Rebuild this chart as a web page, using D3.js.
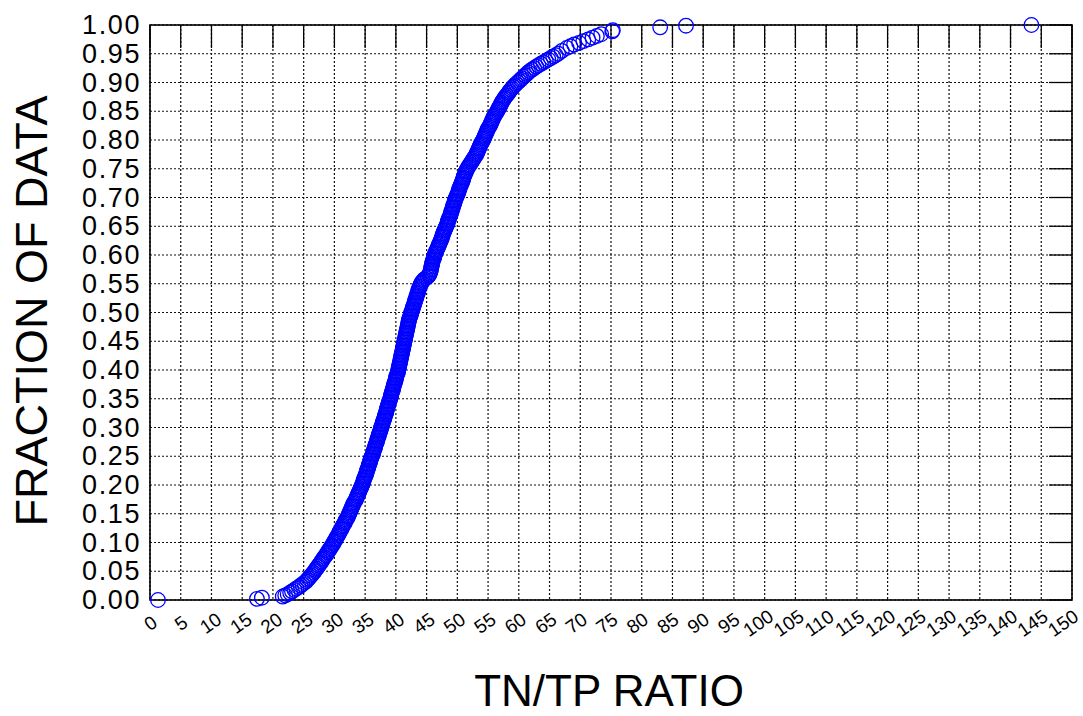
<!DOCTYPE html>
<html>
<head>
<meta charset="utf-8">
<script src="https://cdn.jsdelivr.net/npm/d3@7"></script>
<style>
  body { margin: 0; background: #fff; }
  svg { display: block; font-family: "Liberation Sans", Arial, sans-serif; }
</style>
</head>
<body>
<svg id="chart" width="1083" height="716"></svg>
<script>
// ---- DATA ----
const fraction = [
  0.000, 0.002, 0.004, 0.006, 0.008,
  0.0100, 0.0125, 0.0150, 0.0175, 0.0200, 0.0225, 0.0250, 0.0275, 0.0300, 0.0325,
  0.0350, 0.0375, 0.0400, 0.0425, 0.0450, 0.0475, 0.0500, 0.0525, 0.0550, 0.0575,
  0.0600, 0.0625, 0.0650, 0.0675, 0.0700, 0.0725, 0.0750, 0.0775, 0.0800, 0.0825,
  0.0850, 0.0875, 0.0900, 0.0925, 0.0950, 0.0975, 0.1000, 0.1025, 0.1050, 0.1075,
  0.1100, 0.1125, 0.1150, 0.1175, 0.1200, 0.1225, 0.1250, 0.1275, 0.1300, 0.1325,
  0.1350, 0.1375, 0.1400, 0.1425, 0.1450, 0.1475, 0.1500, 0.1525, 0.1550, 0.1575,
  0.1600, 0.1625, 0.1650, 0.1675, 0.1700, 0.1725, 0.1750, 0.1775, 0.1800, 0.1825,
  0.1850, 0.1875, 0.1900, 0.1925, 0.1950, 0.1975, 0.2000, 0.2025, 0.2050, 0.2075,
  0.2100, 0.2125, 0.2150, 0.2175, 0.2200, 0.2225, 0.2250, 0.2275, 0.2300, 0.2325,
  0.2350, 0.2375, 0.2400, 0.2425, 0.2450, 0.2475, 0.2500, 0.2525, 0.2550, 0.2575,
  0.2600, 0.2625, 0.2650, 0.2675, 0.2700, 0.2725, 0.2750, 0.2775, 0.2800, 0.2825,
  0.2850, 0.2875, 0.2900, 0.2925, 0.2950, 0.2975, 0.3000, 0.3025, 0.3050, 0.3075,
  0.3100, 0.3125, 0.3150, 0.3175, 0.3200, 0.3225, 0.3250, 0.3275, 0.3300, 0.3325,
  0.3350, 0.3375, 0.3400, 0.3425, 0.3450, 0.3475, 0.3500, 0.3525, 0.3550, 0.3575,
  0.3600, 0.3625, 0.3650, 0.3675, 0.3700, 0.3725, 0.3750, 0.3775, 0.3800, 0.3825,
  0.3850, 0.3875, 0.3900, 0.3925, 0.3950, 0.3975, 0.4000, 0.4025, 0.4050, 0.4075,
  0.4100, 0.4125, 0.4150, 0.4175, 0.4200, 0.4225, 0.4250, 0.4275, 0.4300, 0.4325,
  0.4350, 0.4375, 0.4400, 0.4425, 0.4450, 0.4475, 0.4500, 0.4525, 0.4550, 0.4575,
  0.4600, 0.4625, 0.4650, 0.4675, 0.4700, 0.4725, 0.4750, 0.4775, 0.4800, 0.4825,
  0.4850, 0.4875, 0.4900, 0.4925, 0.4950, 0.4975, 0.5000, 0.5025, 0.5050, 0.5075,
  0.5100, 0.5125, 0.5150, 0.5175, 0.5200, 0.5225, 0.5250, 0.5275, 0.5300, 0.5325,
  0.5350, 0.5375, 0.5400, 0.5425, 0.5450, 0.5475, 0.5500, 0.5525, 0.5550, 0.5575,
  0.5600, 0.5625, 0.5650, 0.5675, 0.5700, 0.5725, 0.5750, 0.5775, 0.5800, 0.5825,
  0.5850, 0.5875, 0.5900, 0.5925, 0.5950, 0.5975, 0.6000, 0.6025, 0.6050, 0.6075,
  0.6100, 0.6125, 0.6150, 0.6175, 0.6200, 0.6225, 0.6250, 0.6275, 0.6300, 0.6325,
  0.6350, 0.6375, 0.6400, 0.6425, 0.6450, 0.6475, 0.6500, 0.6525, 0.6550, 0.6575,
  0.6600, 0.6625, 0.6650, 0.6675, 0.6700, 0.6725, 0.6750, 0.6775, 0.6800, 0.6825,
  0.6850, 0.6875, 0.6900, 0.6925, 0.6950, 0.6975, 0.7000, 0.7025, 0.7050, 0.7075,
  0.7100, 0.7125, 0.7150, 0.7175, 0.7200, 0.7225, 0.7250, 0.7275, 0.7300, 0.7325,
  0.7350, 0.7375, 0.7400, 0.7425, 0.7450, 0.7475, 0.7500, 0.7525, 0.7550, 0.7575,
  0.7600, 0.7625, 0.7650, 0.7675, 0.7700, 0.7725, 0.7750, 0.7775, 0.7800, 0.7825,
  0.7850, 0.7875, 0.7900, 0.7925, 0.7950, 0.7975, 0.8000, 0.8025, 0.8050, 0.8075,
  0.8100, 0.8125, 0.8150, 0.8175, 0.8200, 0.8225, 0.8250, 0.8275, 0.8300, 0.8325,
  0.8350, 0.8375, 0.8400, 0.8425, 0.8450, 0.8475, 0.8500, 0.8525, 0.8550, 0.8575,
  0.8600, 0.8625, 0.8650, 0.8675, 0.8700, 0.8725, 0.8750, 0.8775, 0.8800, 0.8825,
  0.8850, 0.8875, 0.8900, 0.8925, 0.8950, 0.8975, 0.9000, 0.9025, 0.9050, 0.9075,
  0.9100, 0.9125, 0.9150, 0.9175, 0.9200, 0.9225, 0.9250, 0.9275, 0.9300, 0.9325,
  0.9350, 0.9375, 0.9400, 0.9425, 0.9450, 0.9475, 0.9500,
  0.955, 0.960, 0.963, 0.966, 0.969, 0.972, 0.975, 0.978, 0.981, 0.984,
  0.989, 0.991, 0.996, 0.9988, 1.000
];
const ratio = [
  1.3, 17.4, 18.2, 21.6, 22.0,
  22.4, 22.8, 23.1, 23.5, 23.8, 24.2, 24.5, 24.8, 25.1, 25.4,
  25.6, 25.8, 26.0, 26.2, 26.4, 26.6, 26.8, 26.9, 27.1, 27.3,
  27.4, 27.6, 27.8, 27.9, 28.1, 28.2, 28.4, 28.6, 28.7, 28.9,
  29.0, 29.2, 29.3, 29.5, 29.6, 29.8, 29.9, 30.0, 30.2, 30.3,
  30.4, 30.6, 30.7, 30.8, 30.9, 31.1, 31.2, 31.3, 31.4, 31.6,
  31.7, 31.8, 31.9, 32.1, 32.2, 32.3, 32.4, 32.5, 32.6, 32.7,
  32.8, 32.9, 33.0, 33.1, 33.2, 33.4, 33.5, 33.6, 33.7, 33.8,
  33.9, 34.0, 34.1, 34.2, 34.3, 34.4, 34.5, 34.6, 34.7, 34.75,
  34.8, 34.9, 35.0, 35.1, 35.2, 35.25, 35.3, 35.4, 35.5, 35.55,
  35.6, 35.7, 35.8, 35.85, 35.9, 36.0, 36.1, 36.2, 36.3, 36.35,
  36.4, 36.5, 36.6, 36.65, 36.7, 36.8, 36.9, 36.95, 37.0, 37.1,
  37.2, 37.25, 37.3, 37.4, 37.5, 37.55, 37.6, 37.7, 37.8, 37.85,
  37.9, 38.0, 38.1, 38.15, 38.2, 38.3, 38.4, 38.45, 38.5, 38.55,
  38.6, 38.7, 38.8, 38.85, 38.9, 39.0, 39.1, 39.15, 39.2, 39.25,
  39.3, 39.4, 39.5, 39.55, 39.6, 39.65, 39.7, 39.8, 39.9, 39.95,
  40.0, 40.05, 40.1, 40.2, 40.3, 40.35, 40.4, 40.45, 40.5, 40.55,
  40.6, 40.65, 40.7, 40.75, 40.8, 40.85, 40.9, 40.95, 41.0, 41.05,
  41.1, 41.15, 41.2, 41.25, 41.3, 41.35, 41.4, 41.45, 41.5, 41.55,
  41.6, 41.65, 41.7, 41.75, 41.8, 41.85, 41.9, 41.95, 42.0, 42.05,
  42.1, 42.15, 42.2, 42.3, 42.4, 42.45, 42.5, 42.6, 42.7, 42.75,
  42.8, 42.9, 43.0, 43.05, 43.1, 43.2, 43.3, 43.35, 43.4, 43.5,
  43.6, 43.65, 43.7, 43.8, 43.9, 44.0, 44.1, 44.2, 44.4, 44.6,
  44.9, 45.2, 45.4, 45.5, 45.6, 45.65, 45.7, 45.75, 45.8, 45.85,
  45.9, 45.95, 46.0, 46.1, 46.2, 46.25, 46.3, 46.4, 46.5, 46.6,
  46.7, 46.8, 46.9, 47.0, 47.1, 47.2, 47.3, 47.4, 47.5, 47.55,
  47.6, 47.7, 47.8, 47.9, 48.0, 48.1, 48.2, 48.3, 48.4, 48.45,
  48.5, 48.6, 48.7, 48.8, 48.9, 48.95, 49.0, 49.1, 49.2, 49.25,
  49.3, 49.4, 49.5, 49.55, 49.6, 49.7, 49.8, 49.9, 50.0, 50.1,
  50.2, 50.25, 50.3, 50.4, 50.5, 50.6, 50.7, 50.8, 50.9, 50.95,
  51.0, 51.1, 51.2, 51.3, 51.4, 51.5, 51.6, 51.75, 51.9, 52.05,
  52.2, 52.35, 52.5, 52.65, 52.8, 52.95, 53.1, 53.2, 53.3, 53.4,
  53.5, 53.6, 53.7, 53.8, 53.9, 54.05, 54.2, 54.3, 54.4, 54.5,
  54.6, 54.7, 54.8, 54.9, 55.0, 55.15, 55.3, 55.4, 55.5, 55.6,
  55.7, 55.8, 55.9, 56.05, 56.2, 56.35, 56.5, 56.6, 56.7, 56.85,
  57.0, 57.1, 57.2, 57.35, 57.5, 57.65, 57.8, 58.0, 58.2, 58.35,
  58.5, 58.7, 58.9, 59.1, 59.3, 59.55, 59.8, 60.05, 60.3, 60.55,
  60.8, 61.05, 61.3, 61.55, 61.8, 62.15, 62.5, 62.85, 63.2, 63.6,
  64.0, 64.4, 64.8, 65.2, 65.6, 66.0, 66.4,
  67.0, 67.8, 68.4, 69.0, 69.8, 70.5, 71.3, 72.0, 72.7, 73.4,
  75.2, 75.3, 83.0, 87.2, 143.4
];
const xTicks = d3.range(0, 151, 5);
const yTicks = d3.range(0, 21).map(i => i * 0.05);
const xTitle = "TN/TP RATIO";
const yTitle = "FRACTION OF DATA";

// ---- LAYOUT ----
const margin = { left: 150, right: 11, top: 25, bottom: 116 };
const W = 1083, H = 716;
const iw = W - margin.left - margin.right;
const ih = H - margin.top - margin.bottom;

const svg = d3.select("#chart");
const g = svg.append("g").attr("transform", `translate(${margin.left},${margin.top})`);

const x = d3.scaleLinear().domain([0, 150]).range([0, iw]);
const y = d3.scaleLinear().domain([0, 1]).range([ih, 0]);

// grid (dotted)
g.append("g").selectAll("line").data(xTicks).join("line")
  .attr("x1", d => x(d)).attr("x2", d => x(d))
  .attr("y1", 0).attr("y2", ih)
  .attr("stroke", "#111").attr("stroke-width", 1.2)
  .attr("stroke-dasharray", "2,2");
g.append("g").selectAll("line").data(yTicks).join("line")
  .attr("x1", 0).attr("x2", iw)
  .attr("y1", d => y(d)).attr("y2", d => y(d))
  .attr("stroke", "#111").attr("stroke-width", 1.2)
  .attr("stroke-dasharray", "2,2");

// solid ticks on top and right (inward)
const tickLen = 23;
g.append("g").selectAll("line").data(xTicks).join("line")
  .attr("x1", d => x(d)).attr("x2", d => x(d))
  .attr("y1", 0).attr("y2", tickLen)
  .attr("stroke", "#000").attr("stroke-width", 1.3);
g.append("g").selectAll("line").data(yTicks).join("line")
  .attr("x1", iw - tickLen).attr("x2", iw)
  .attr("y1", d => y(d)).attr("y2", d => y(d))
  .attr("stroke", "#000").attr("stroke-width", 1.3);

// box
g.append("rect").attr("x", 0).attr("y", 0).attr("width", iw).attr("height", ih)
  .attr("fill", "none").attr("stroke", "#000").attr("stroke-width", 1.6);

// y tick labels
const yAxis = d3.axisLeft(y).tickValues(yTicks).tickFormat(d3.format(".2f")).tickSize(0).tickPadding(9);
const ya = g.append("g").call(yAxis);
ya.select(".domain").remove();
ya.selectAll("text")
  .attr("font-size", 27).attr("fill", "#000")
  .attr("font-family", "'Liberation Sans', Arial, sans-serif")
  .style("letter-spacing", "1.6px");

// x tick labels, rotated
const xAxis = d3.axisBottom(x).tickValues(xTicks).tickFormat(d3.format("d")).tickSize(0);
const xa = g.append("g").attr("transform", `translate(0,${ih})`).call(xAxis);
xa.select(".domain").remove();
xa.selectAll(".tick text")
  .attr("font-size", 19).attr("fill", "#000")
  .attr("font-family", "'Liberation Sans', Arial, sans-serif")
  .attr("text-anchor", "middle")
  .attr("y", 0).attr("dy", "0.35em")
  .attr("transform", d => {
    const n = String(d).length;
    const dx = -(n - 1) - 0.05 * d;
    return `translate(${dx},23) rotate(-35)`;
  });

// points
g.append("g").selectAll("circle").data(ratio).join("circle")
  .attr("cx", (d) => x(d))
  .attr("cy", (d, i) => y(fraction[i]))
  .attr("r", 7.3)
  .attr("fill", "none")
  .attr("stroke", "#0000ff")
  .attr("stroke-width", 1.3);

// axis titles
svg.append("text")
  .attr("x", 609).attr("y", 706)
  .attr("text-anchor", "middle")
  .attr("font-size", 44).attr("fill", "#000")
  .text(xTitle);
svg.append("text")
  .attr("transform", "translate(47,311) rotate(-90)")
  .attr("text-anchor", "middle")
  .attr("font-size", 45).attr("fill", "#000")
  .text(yTitle);
</script>
</body>
</html>
